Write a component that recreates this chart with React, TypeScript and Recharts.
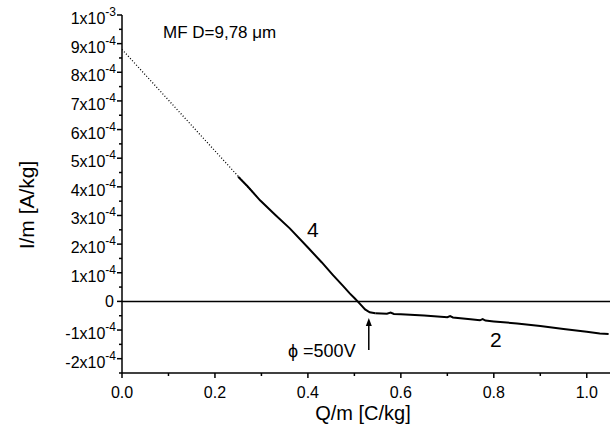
import { Line, LineChart, ReferenceLine, XAxis, YAxis } from "recharts";

// values in units of 1e-4 A/kg
const EXTRAPOLATION_X = [0, 0.29];
const EXTRAPOLATION_Y = [8.8, 3.66];

const CURVE4_X = [0.25, 0.27, 0.297, 0.33, 0.361, 0.4, 0.43, 0.454, 0.475, 0.49, 0.5, 0.507, 0.515, 0.523, 0.533, 0.545];
const CURVE4_Y = [4.35, 4.02, 3.53, 3.02, 2.55, 1.88, 1.36, 0.92, 0.55, 0.28, 0.12, 0.0, -0.14, -0.28, -0.38, -0.41];

const CURVE2_X = [0.545, 0.57, 0.578, 0.585, 0.6, 0.65, 0.7, 0.706, 0.712, 0.75, 0.77, 0.776, 0.782, 0.8, 0.85, 0.9, 0.95, 1.0, 1.028, 1.047];
const CURVE2_Y = [-0.41, -0.43, -0.39, -0.44, -0.45, -0.49, -0.55, -0.51, -0.56, -0.62, -0.66, -0.62, -0.67, -0.7, -0.77, -0.86, -0.96, -1.06, -1.12, -1.14];

const ARROW = { x: 0.531, from: -1.7, to: -0.58 };

const X_TICKS = [0, 0.1, 0.2, 0.3, 0.4, 0.5, 0.6, 0.7, 0.8, 0.9, 1.0];
const Y_TICKS = [-2.5, -2, -1.5, -1, -0.5, 0, 0.5, 1, 1.5, 2, 2.5, 3, 3.5, 4, 4.5, 5, 5.5, 6, 6.5, 7, 7.5, 8, 8.5, 9, 9.5, 10];

const FONT = "Arial, 'Liberation Sans', Helvetica, sans-serif";

const toPoints = (xs: number[], ys: number[]) => xs.map((x, i) => ({ x, y: ys[i] }));

function XTick({ x, y, payload }: any) {
  const v = payload.value as number;
  const major = Math.round(v * 10) % 2 === 0;
  return (
    <g>
      <line x1={x} x2={x} y1={y} y2={y + (major ? 5 : 3)} stroke="#000" strokeWidth={1.5} />
      {major && (
        <text x={x} y={y + 25} textAnchor="middle" fontSize={16} fontFamily={FONT} fill="#000">
          {v.toFixed(1)}
        </text>
      )}
    </g>
  );
}

function YTick({ x, y, payload }: any) {
  const v = payload.value as number;
  const major = Number.isInteger(v);
  let label = null;
  if (major) {
    if (v === 0) {
      label = (
        <text x={x - 8} y={y + 6} textAnchor="end" fontSize={16} fontFamily={FONT} fill="#000">
          0
        </text>
      );
    } else {
      const mant = v === 10 ? "1" : String(v);
      const exp = v === 10 ? "-3" : "-4";
      label = (
        <text x={x - 6} y={y + 9} textAnchor="end" fontSize={16} fontFamily={FONT} fill="#000">
          <tspan>{mant}x10</tspan>
          <tspan dy={-8} fontSize={12}>{exp}</tspan>
        </text>
      );
    }
  }
  return (
    <g>
      <line x1={x - (major ? 5 : 3)} x2={x} y1={y} y2={y} stroke="#000" strokeWidth={1.5} />
      {label}
    </g>
  );
}

function Arrow(props: any) {
  const { x1, y1, x2, y2 } = props;
  const top = Math.min(y1, y2);
  const bottom = Math.max(y1, y2);
  return (
    <g>
      <line x1={x1} x2={x2} y1={bottom} y2={top + 6} stroke="#000" strokeWidth={1.5} />
      <polygon points={`${x1},${top} ${x1 - 3},${top + 8} ${x1 + 3},${top + 8}`} fill="#000" />
    </g>
  );
}

export default function App() {
  return (
    <div style={{ position: "absolute", left: 0, top: 0, width: 612, height: 443, background: "#fff" }}>
      <LineChart width={612} height={443} margin={{ top: 15, right: 2, bottom: 0, left: 0 }}>
        <XAxis
          dataKey="x"
          type="number"
          domain={[0, 1.05]}
          ticks={X_TICKS}
          interval={0}
          height={70}
          tickSize={0}
          tickMargin={0}
          tickLine={false}
          tick={<XTick />}
          axisLine={{ stroke: "#000", strokeWidth: 1.5 }}
        />
        <YAxis
          dataKey="y"
          type="number"
          domain={[-2.5, 10]}
          ticks={Y_TICKS}
          interval={0}
          width={122}
          tickSize={0}
          tickMargin={0}
          tickLine={false}
          tick={<YTick />}
          axisLine={{ stroke: "#000", strokeWidth: 1.5 }}
        />
        <ReferenceLine y={0} stroke="#000" strokeWidth={1.5} />
        <ReferenceLine
          segment={[
            { x: ARROW.x, y: ARROW.from },
            { x: ARROW.x, y: ARROW.to },
          ]}
          shape={<Arrow />}
        />
        <Line
          data={toPoints(EXTRAPOLATION_X, EXTRAPOLATION_Y)}
          dataKey="y"
          type="linear"
          dot={false}
          stroke="#000"
          strokeWidth={1.3}
          strokeDasharray="1 2"
          isAnimationActive={false}
        />
        <Line
          data={toPoints(CURVE4_X, CURVE4_Y)}
          dataKey="y"
          type="linear"
          dot={false}
          stroke="#000"
          strokeWidth={2}
          isAnimationActive={false}
        />
        <Line
          data={toPoints(CURVE2_X, CURVE2_Y)}
          dataKey="y"
          type="linear"
          dot={false}
          stroke="#000"
          strokeWidth={2}
          isAnimationActive={false}
        />
      </LineChart>
      <svg
        width={612}
        height={443}
        style={{ position: "absolute", left: 0, top: 0, pointerEvents: "none" }}
        fontFamily={FONT}
        fill="#000"
      >
        <text x={163} y={38} fontSize={17}>
          MF D=9,78 μm
        </text>
        <text x={307} y={237} fontSize={21}>
          4
        </text>
        <text x={490} y={347} fontSize={21}>
          2
        </text>
        <text x={288} y={357} fontSize={18}>
          ϕ =500V
        </text>
        <text x={363} y={420} fontSize={20} textAnchor="middle">
          Q/m [C/kg]
        </text>
        <text x={34} y={205} fontSize={21} textAnchor="middle" transform="rotate(-90 34 205)">
          I/m [A/kg]
        </text>
      </svg>
    </div>
  );
}
